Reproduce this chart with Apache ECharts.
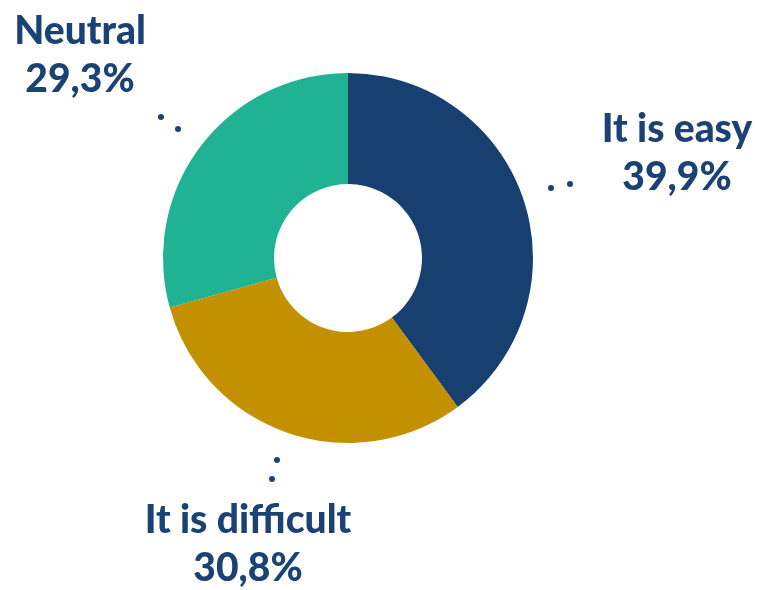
<!DOCTYPE html>
<html>
<head>
<meta charset="utf-8">
<script src="https://cdn.jsdelivr.net/npm/echarts@6/dist/echarts.min.js"></script>
<style>html,body{margin:0;padding:0;background:#fff}#c{width:757px;height:590px}</style>
</head>
<body>
<div id="c"></div>
<script>
const categories = ["It is easy", "It is difficult", "Neutral"];
const values = [39.9, 30.8, 29.3];
const valueLabels = ["39,9%", "30,8%", "29,3%"];

const colors = ["#173F6F", "#C39100", "#1FB394"];
const textColor = "#1B4274";
// label anchor (center x, top y) per slice
const labelAnchors = [[677, 104], [248, 495], [80, 6]];
const dots = [[[551,188],[570,184]], [[277,460],[272,479]], [[161,117],[178,129]]];

const chart = echarts.init(document.getElementById('c'));
const graphics = [];
dots.forEach(pair => pair.forEach(p => graphics.push({
  type: 'circle', shape: {cx: p[0], cy: p[1], r: 3}, style: {fill: textColor}
})));

chart.setOption({
  animation: false,
  graphic: graphics,
  series: [{
    type: 'pie',
    center: [348, 258],
    radius: [74, 185],
    startAngle: 90,
    clockwise: true,
    data: categories.map((c, i) => ({name: c, value: values[i], itemStyle: {color: colors[i]}})),
    label: {
      show: true,
      position: 'outside',
      formatter: p => '{a|' + p.name + '}\n{b|' + valueLabels[p.dataIndex] + '}',
      rich: {
        a: {fontFamily: 'Lato', fontWeight: 900, fontSize: 39, color: textColor, lineHeight: 50, align: 'center'},
        b: {fontFamily: 'Lato', fontWeight: 900, fontSize: 39, color: textColor, lineHeight: 46, align: 'center'}
      }
    },
    labelLine: {show: false},
    labelLayout: p => ({x: labelAnchors[p.dataIndex][0], y: labelAnchors[p.dataIndex][1], align: 'center', verticalAlign: 'top'})
  }]
});
</script>
</body>
</html>
